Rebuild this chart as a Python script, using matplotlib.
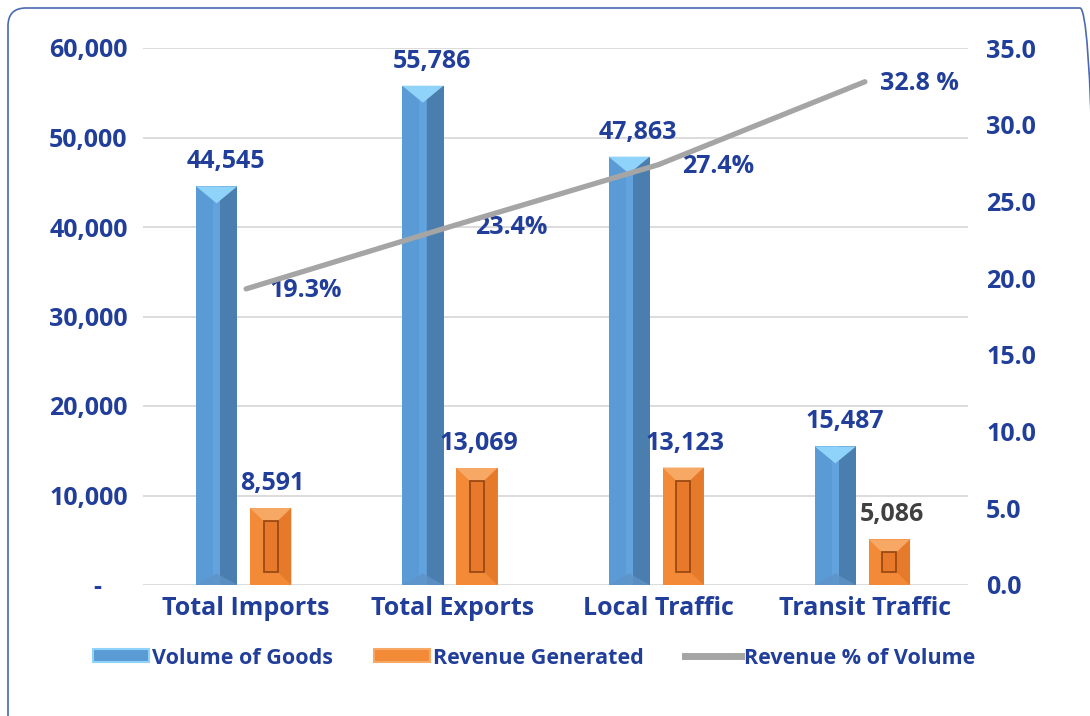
"""
Volume of goods vs revenue generated, with revenue share on a second axis
"""
import matplotlib
matplotlib.use("Agg")
import matplotlib.pyplot as plt
from matplotlib.patches import Patch, Polygon, Rectangle, FancyBboxPatch
from matplotlib.lines import Line2D
from matplotlib.ticker import FuncFormatter, MultipleLocator
from matplotlib.transforms import IdentityTransform

categories = ["Total Imports", "Total Exports", "Local Traffic", "Transit Traffic"]
volume = [44545, 55786, 47863, 15487]
revenue = [8591, 13069, 13123, 5086]
revenue_pct = [19.3, 23.4, 27.4, 32.8]
pct_labels = ["19.3%", "23.4%", "27.4%", "32.8 %"]
revenue_label_colors = ["#213E9A", "#213E9A", "#213E9A", "#404040"]

NAVY = "#213E9A"
FONT = "Open Sans"
plt.rcParams["font.family"] = [FONT, "DejaVu Sans"]
plt.rcParams["font.weight"] = "bold"

fig = plt.figure(figsize=(10.9, 7.16), dpi=100)
ax = fig.add_axes([143 / 1090, 1 - 585 / 716, 825 / 1090, 537 / 716])
ax2 = ax.twinx()

x = list(range(len(categories)))
w = 0.2
off_vol, off_rev = -0.143, 0.119

# bars (flat base colour, bevel drawn on top)
xv = [i + off_vol for i in x]
xr = [i + off_rev for i in x]
ax.bar(xv, volume, width=w, color="#5B9BD5", zorder=2)
ax.bar([v + 0.295 * w for v in xv], volume, width=0.41 * w, color="#4A7EAF", zorder=3)
ax.bar(xv, volume, width=0.17 * w, color="#62A3DD", zorder=3)
ax.bar(xr, revenue, width=w, color="#F28A38", zorder=2)

depth = 1900  # bevel depth in data units (~17 px)
for xc, v in zip(xv, volume):
    ax.add_patch(Polygon([(xc - w / 2, v), (xc + w / 2, v), (xc, v - depth)],
                         closed=True, color="#8FD2FA", zorder=4, lw=0))
    ax.add_patch(Polygon([(xc - w / 2, 0), (xc + w / 2, 0), (xc, 1300)],
                         closed=True, color="#5E93C8", zorder=4, lw=0, alpha=0.8))

inset = 1450
for xc, v in zip(xr, revenue):
    ax.add_patch(Polygon([(xc - w / 2, v), (xc + w / 2, v),
                          (xc + 0.17 * w, v - inset), (xc - 0.17 * w, v - inset)],
                         closed=True, color="#F8A865", zorder=3, lw=0))
    ax.add_patch(Polygon([(xc + w / 2, v), (xc + w / 2, 0),
                          (xc + 0.17 * w, inset), (xc + 0.17 * w, v - inset)],
                         closed=True, color="#E57A2A", zorder=3, lw=0))
    ax.add_patch(Rectangle((xc - 0.17 * w, inset), 0.34 * w, v - 2 * inset,
                           facecolor="#E8792B", edgecolor="#9A4A14", lw=1.3, zorder=4))

# value labels
for xc, v in zip(xv, volume):
    ax.annotate(f"{v:,}", (xc, v), xytext=(9, 12), textcoords="offset pixels",
                ha="center", va="bottom", fontsize=18, color=NAVY, fontweight="bold")
for xc, v, c in zip(xr, revenue, revenue_label_colors):
    ax.annotate(f"{v:,}", (xc, v), xytext=(2, 12), textcoords="offset pixels",
                ha="center", va="bottom", fontsize=18, color=c, fontweight="bold")

# revenue share line
ax2.plot(x, revenue_pct, color="#A5A5A5", lw=3.8, solid_capstyle="round", zorder=5)
for i, (p, lab) in enumerate(zip(revenue_pct, pct_labels)):
    ax2.annotate(lab, (i, p), xytext=(23 if i < 3 else 15, -2), textcoords="offset pixels",
                 ha="left", va="center", fontsize=18, color=NAVY, fontweight="bold")

# axes
ax.set_xlim(-0.5, 3.5)
ax.set_ylim(0, 60000)
ax2.set_ylim(0, 35)
ax.yaxis.set_major_locator(MultipleLocator(10000))
ax2.yaxis.set_major_locator(MultipleLocator(5))
ax.yaxis.set_major_formatter(FuncFormatter(lambda v, _: "-    " if v == 0 else f"{v:,.0f}"))
ax2.yaxis.set_major_formatter(FuncFormatter(lambda v, _: f"{v:.1f}"))
ax.set_xticks(x)
ax.set_xticklabels(categories)
ax.grid(axis="y", color="#D9D9D9", lw=1.3, zorder=0)
ax.set_axisbelow(True)
for a in (ax, ax2):
    for s in a.spines.values():
        s.set_visible(False)
ax.tick_params(axis="y", length=0, pad=11, labelsize=18, labelcolor=NAVY)
ax2.tick_params(axis="y", length=0, pad=13, labelsize=18, labelcolor=NAVY)
ax.tick_params(axis="x", length=0, pad=8, labelsize=18, labelcolor=NAVY)

# legend
handles = [Patch(facecolor="#5B9BD5", edgecolor="#8FD2FA", lw=1.5),
           Patch(facecolor="#F28A38", edgecolor="#F8A865", lw=1.5),
           Line2D([], [], color="#A5A5A5", lw=5)]
leg = fig.legend(handles, ["Volume of Goods", "Revenue Generated", "Revenue % of Volume"],
                 loc="center", bbox_to_anchor=(534 / 1090, 1 - 658 / 716), ncol=3,
                 frameon=False, fontsize=15.5, handlelength=2.6, handleheight=0.55,
                 handletextpad=0.15, columnspacing=1.9)
for t in leg.get_texts():
    t.set_color(NAVY)

# rounded frame around the chart
fig.patches.append(FancyBboxPatch((8, -30), 1090, 738, boxstyle="round,pad=0,rounding_size=18",
                                  transform=IdentityTransform(), fill=False,
                                  edgecolor="#4A6AB5", lw=1.2))

fig.savefig("out.png", dpi=100)
